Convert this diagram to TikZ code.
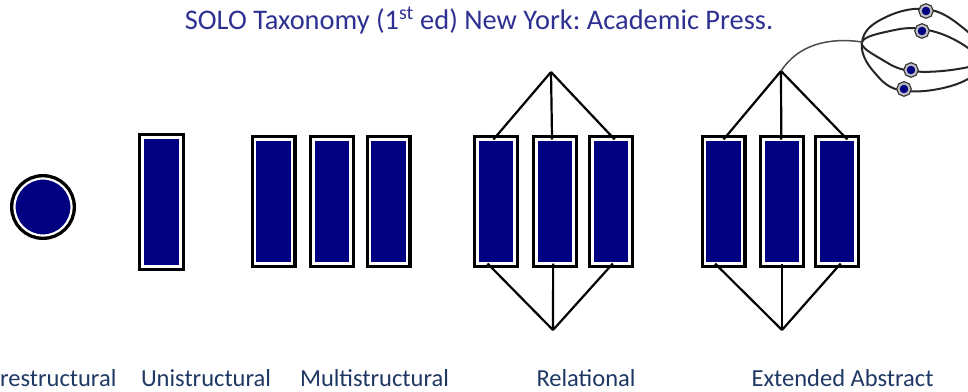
\documentclass[tikz,border=0pt]{standalone}
\usepackage{fontspec}
\setmainfont{Carlito}
\usetikzlibrary{calc}
\definecolor{navy}{RGB}{0,0,128}
\definecolor{titleblue}{RGB}{46,49,146}
\definecolor{labelblue}{RGB}{31,56,100}
\begin{document}
\frenchspacing
\begin{tikzpicture}[x=1pt,y=-1pt,
  sbar/.style={rectangle, inner sep=0pt, outer sep=0pt, fill=navy, draw=white, line width=2.2pt,
    preaction={draw=black, line width=9pt}},
  ubar/.style={sbar, minimum width=38pt, minimum height=129pt},
  mbar/.style={sbar, minimum width=37pt, minimum height=124pt},
  conn/.style={draw=black, line width=2.2pt},
  ring/.style={draw=black!85, line width=2pt},
  dot/.style={circle, inner sep=0pt, minimum size=11pt, fill=navy, draw=black!25, line width=2pt,
    preaction={draw=black!80, line width=4.5pt}},
  lab/.style={text=labelblue, font=\fontsize{24.5}{28}\selectfont, inner sep=0pt},
  ttl/.style={text=titleblue, font=\fontsize{28.4}{32}\selectfont, inner sep=0pt}]
\useasboundingbox (0,0) rectangle (968,391);
\fill[white] (0,0) rectangle (968,391);

% title
\node[ttl, anchor=base] (title) at (479,29) {SOLO Taxonomy (1\textsuperscript{st} ed) New York: Academic Press.};

% prestructural
\node[sbar, circle, minimum size=57pt] (p) at (43,207) {};

% unistructural
\node[ubar] (u1) at (161.5,202) {};

% multistructural
\node[mbar] (m1) at (273.5,201.5) {};
\node[mbar] (m2) at (332,201.5) {};
\node[mbar] (m3) at (388.5,201.5) {};

% relational
\node[mbar] (r1) at (496,201.5) {};
\node[mbar] (r2) at (555,201.5) {};
\node[mbar] (r3) at (611,201.5) {};
\coordinate (rt) at (551,72);
\coordinate (rb) at (553,330);
\draw[conn] (rt) -- ($(r1.north west)!0.43!(r1.north east)$);
\draw[conn] (rt) -- ($(r2.north west)!0.42!(r2.north east)$);
\draw[conn] (rt) -- ($(r3.north west)!0.6!(r3.north east)$);
\draw[conn] (rb) -- ($(r1.south west)!0.27!(r1.south east)$);
\draw[conn] (rb) -- ($(r2.south west)!0.45!(r2.south east)$);
\draw[conn] (rb) -- ($(r3.south west)!0.55!(r3.south east)$);

% extended abstract
\node[mbar] (e1) at (723.5,201.5) {};
\node[mbar] (e2) at (782,201.5) {};
\node[mbar] (e3) at (837,201.5) {};
\coordinate (et) at (781,71);
\coordinate (eb) at (782,330);
\draw[conn] (et) -- ($(e1.north west)!0.5!(e1.north east)$);
\draw[conn] (et) -- ($(e2.north west)!0.48!(e2.north east)$);
\draw[conn] (et) -- ($(e3.north west)!0.78!(e3.north east)$);
\draw[conn] (eb) -- ($(e1.south west)!0.27!(e1.south east)$);
\draw[conn] (eb) -- ($(e2.south west)!0.5!(e2.south east)$);
\draw[conn] (eb) -- ($(e3.south west)!0.6!(e3.south east)$);

% rings
\coordinate (rj) at (862,42);
\begin{scope}
\clip (0,0) rectangle (968,391);
\draw[ring] plot[smooth cycle, tension=0.7] coordinates {(862,42) (882,19) (925,9) (962,27) (984,56) (962,82) (905,91) (874,72)};
\draw[ring] plot[smooth cycle, tension=0.7] coordinates {(862,42) (890,31) (922,29) (957,41) (978,60) (958,69) (911,71) (881,59)};
\end{scope}
\draw[draw=black!70, line width=1.5pt] (et) .. controls (798,45) and (828,37) .. (rj);
\node[dot] (d1) at (926,11) {};
\node[dot] (d2) at (922,31) {};
\node[dot] (d3) at (911,70) {};
\node[dot] (d4) at (904,89) {};

% labels
\node[lab, anchor=base west] (lp) at (0,386) {restructural};
\node[lab, anchor=base] (lu) at (206,386) {Unistructural};
\node[lab, anchor=base] (lm) at (374.5,386) {Multistructural};
\node[lab, anchor=base] (lr) at (586,386) {Relational};
\node[lab, anchor=base] (le) at (842.5,386) {Extended Abstract};
\end{tikzpicture}
\end{document}
